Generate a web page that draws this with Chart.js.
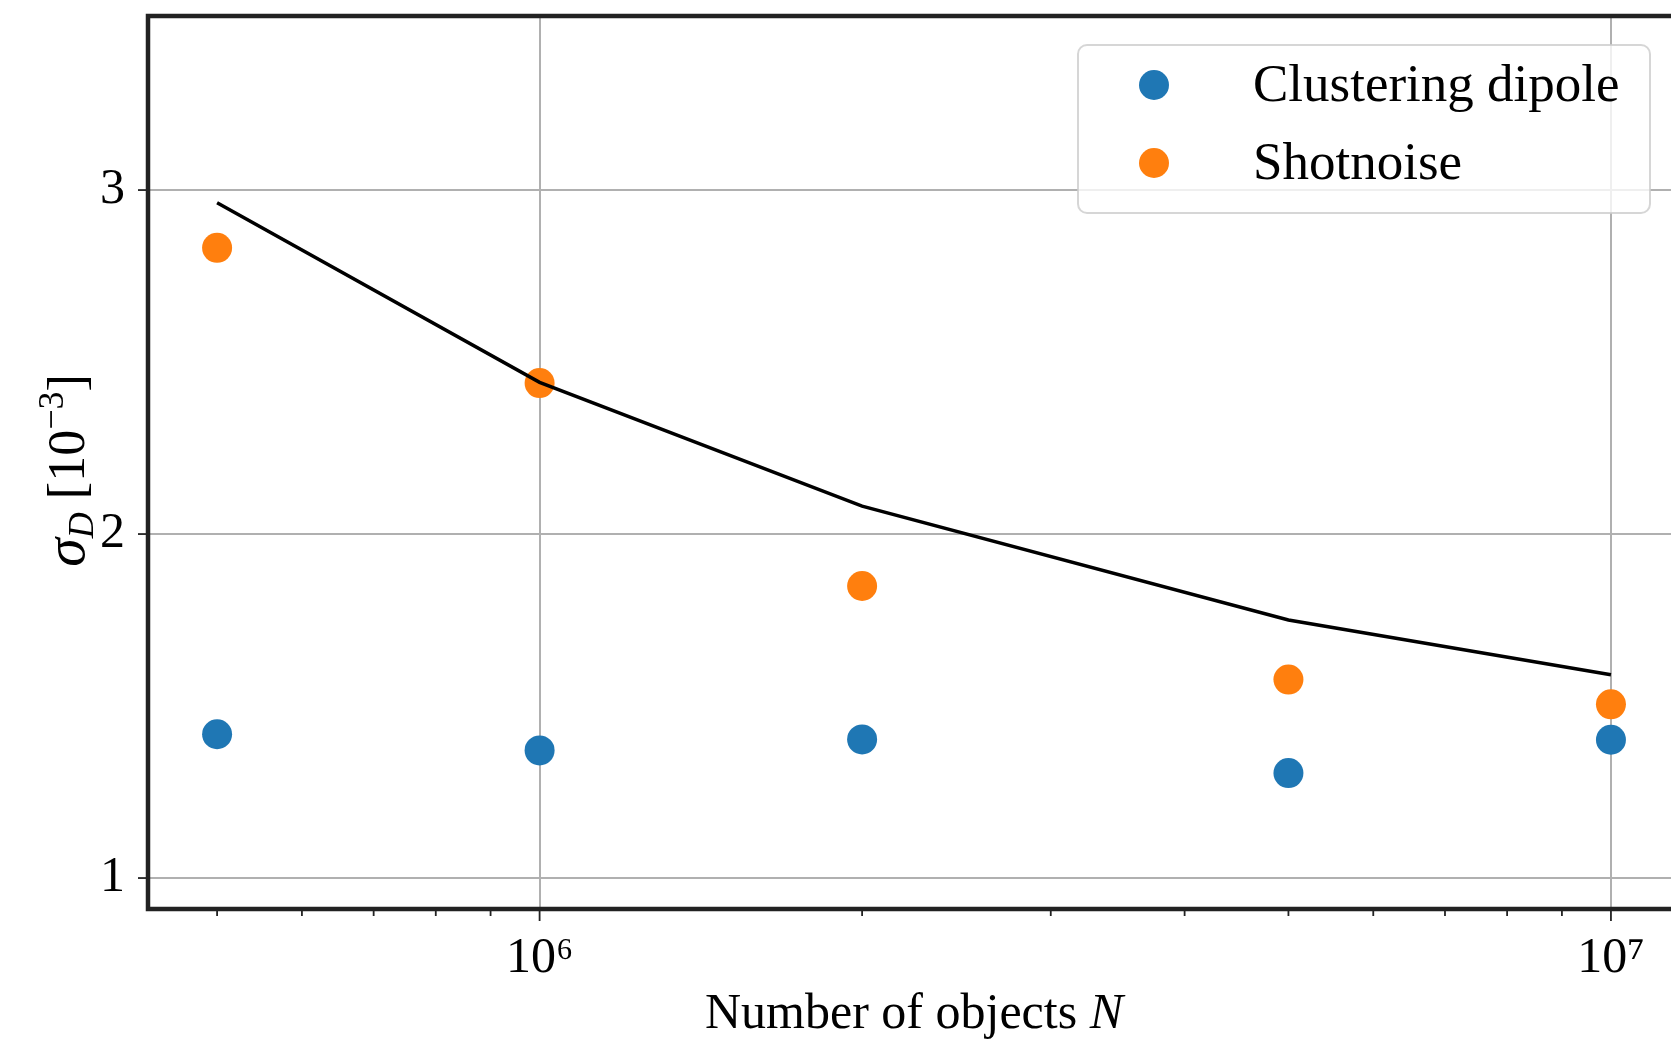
<!DOCTYPE html>
<html>
<head>
<meta charset="utf-8">
<script src="https://cdn.jsdelivr.net/npm/chart.js@4"></script>
<style>
  html, body { margin: 0; padding: 0; background: #fff; overflow: hidden; }
  #wrap { width: 1671px; height: 1041px; overflow: hidden; }
</style>
</head>
<body>
<div id="wrap"><canvas id="sigmaChart" width="1695" height="1041"></canvas></div>
<script>
// values
const nObjects = [5e5, 1e6, 2e6, 5e6, 1e7];
const clusteringDipole = [1.418, 1.371, 1.403, 1.305, 1.402];
const shotnoise = [2.832, 2.439, 1.849, 1.577, 1.505];
const totalSigma = [2.963, 2.441, 2.081, 1.750, 1.591];
const seriesLabels = ['Clustering dipole', 'Shotnoise'];
const seriesColors = ['#1f77b4', '#ff7f0e'];
const yTicks = [1, 2, 3];
const xMajorTicks = [1e6, 1e7];
const xTickLabels = ['10⁶', '10⁷'];
const xMinorTicks = [5e5, 6e5, 7e5, 8e5, 9e5, 2e6, 3e6, 4e6, 5e6, 6e6, 7e6, 8e6, 9e6];
const xTitle = 'Number of objects ';
const xTitleVar = 'N';

const SERIF = '"Liberation Serif", "DejaVu Serif", serif';
const GRID = '#b0b0b0';
const SPINE = '#222';

function pairs(ys) {
  return nObjects.map((x, i) => ({ x: x, y: ys[i] }));
}

// spines, tick marks and axis titles (matplotlib look)
const axesPlugin = {
  id: 'axesDecor',
  afterDatasetsDraw(chart) {
    const ctx = chart.ctx;
    const a = chart.chartArea;
    const xs = chart.scales.x, ys = chart.scales.y;
    ctx.save();
    ctx.strokeStyle = SPINE;
    ctx.lineWidth = 1.8;
    xMinorTicks.forEach(v => {
      const px = xs.getPixelForValue(v);
      ctx.beginPath(); ctx.moveTo(px, a.bottom); ctx.lineTo(px, a.bottom + 7); ctx.stroke();
    });
    xMajorTicks.forEach(v => {
      const px = xs.getPixelForValue(v);
      ctx.beginPath(); ctx.moveTo(px, a.bottom); ctx.lineTo(px, a.bottom + 12); ctx.stroke();
    });
    yTicks.forEach(v => {
      const py = ys.getPixelForValue(v);
      ctx.beginPath(); ctx.moveTo(a.left, py); ctx.lineTo(a.left - 10, py); ctx.stroke();
    });
    ctx.lineWidth = 4.5;
    ctx.beginPath();
    ctx.moveTo(a.right + 5, a.top);
    ctx.lineTo(a.left, a.top);
    ctx.lineTo(a.left, a.bottom);
    ctx.lineTo(a.right + 5, a.bottom);
    ctx.stroke();
    ctx.restore();
  },
  afterDraw(chart) {
    const ctx = chart.ctx;
    const a = chart.chartArea;
    ctx.save();
    ctx.fillStyle = '#000';
    ctx.textBaseline = 'alphabetic';

    // x title
    ctx.font = '50px ' + SERIF;
    const w1 = ctx.measureText(xTitle).width;
    ctx.font = 'italic 50px ' + SERIF;
    const w2 = ctx.measureText(xTitleVar).width;
    let x0 = (a.left + a.right) / 2 - (w1 + w2) / 2;
    ctx.font = '50px ' + SERIF;
    ctx.fillText(xTitle, x0, 1028);
    ctx.font = 'italic 50px ' + SERIF;
    ctx.fillText(xTitleVar, x0 + w1, 1028);

    // y title: sigma_D [10^-3]
    const parts = [
      { t: 'σ', f: 'italic 58px ' + SERIF, dy: 0 },
      { t: 'D', f: 'italic 36px ' + SERIF, dy: 9 },
      { t: ' [10', f: '52px ' + SERIF, dy: 0 },
      { t: '−3', f: '36px ' + SERIF, dy: -21 },
      { t: ']', f: '52px ' + SERIF, dy: 0 }
    ];
    let total = 0;
    parts.forEach(p => { ctx.font = p.f; p.w = ctx.measureText(p.t).width; total += p.w; });
    ctx.translate(84, (a.top + a.bottom) / 2 + 8);
    ctx.rotate(-Math.PI / 2);
    let cx = -total / 2;
    parts.forEach(p => { ctx.font = p.f; ctx.fillText(p.t, cx, p.dy); cx += p.w; });
    ctx.restore();

    // legend box
    const L = { x: 1078, y: 45, w: 572, h: 168, r: 9 };
    ctx.save();
    ctx.beginPath();
    ctx.moveTo(L.x + L.r, L.y);
    ctx.arcTo(L.x + L.w, L.y, L.x + L.w, L.y + L.h, L.r);
    ctx.arcTo(L.x + L.w, L.y + L.h, L.x, L.y + L.h, L.r);
    ctx.arcTo(L.x, L.y + L.h, L.x, L.y, L.r);
    ctx.arcTo(L.x, L.y, L.x + L.w, L.y, L.r);
    ctx.closePath();
    ctx.fillStyle = 'rgba(255,255,255,0.8)';
    ctx.fill();
    ctx.strokeStyle = 'rgba(204,204,204,0.8)';
    ctx.lineWidth = 2;
    ctx.stroke();
    ctx.font = '53px ' + SERIF;
    ctx.textBaseline = 'middle';
    seriesLabels.forEach((lab, i) => {
      const yy = 85 + i * 78;
      ctx.fillStyle = seriesColors[i];
      ctx.beginPath(); ctx.arc(1154, yy, 15, 0, Math.PI * 2); ctx.fill();
      ctx.fillStyle = '#000';
      ctx.fillText(lab, 1253, yy + 2);
    });
    ctx.restore();
  }
};

const ctx = document.getElementById('sigmaChart').getContext('2d');

new Chart(ctx, {
  type: 'scatter',
  data: {
    datasets: [
      {
        label: 'total',
        data: pairs(totalSigma),
        showLine: true,
        borderColor: '#000',
        borderWidth: 3.5,
        pointRadius: 0,
        fill: false,
        order: 0
      },
      {
        label: seriesLabels[0],
        data: pairs(clusteringDipole),
        backgroundColor: seriesColors[0],
        borderWidth: 0,
        pointRadius: 15,
        order: 2
      },
      {
        label: seriesLabels[1],
        data: pairs(shotnoise),
        backgroundColor: seriesColors[1],
        borderWidth: 0,
        pointRadius: 15,
        order: 1
      }
    ]
  },
  options: {
    responsive: false,
    animation: false,
    devicePixelRatio: 1,
    layout: { padding: { top: 16, left: 0, right: 0, bottom: 0 } },
    plugins: {
      legend: { display: false },
      tooltip: { enabled: false }
    },
    scales: {
      x: {
        type: 'logarithmic',
        min: 4.31e5,
        max: 1.16e7,
        afterBuildTicks: s => {
          s.ticks = xMinorTicks.concat(xMajorTicks).sort((p, q) => p - q).map(v => ({ value: v }));
        },
        afterFit: s => {
          s.height = 132;
          s.paddingLeft = 0; s.paddingRight = 0;
        },
        ticks: {
          autoSkip: false,
          maxRotation: 0,
          padding: 20,
          color: '#000',
          font: { family: SERIF, size: 50 },
          callback: v => {
            const i = xMajorTicks.indexOf(v);
            return i >= 0 ? xTickLabels[i] : '';
          }
        },
        grid: {
          drawTicks: false,
          lineWidth: 2,
          color: c => (c.tick && xMajorTicks.includes(c.tick.value)) ? GRID : 'rgba(0,0,0,0)'
        },
        border: { display: false }
      },
      y: {
        min: 0.91,
        max: 3.506,
        afterBuildTicks: s => { s.ticks = yTicks.map(v => ({ value: v })); },
        afterFit: s => {
          s.width = 148;
          s.paddingTop = 0; s.paddingBottom = 0;
        },
        ticks: {
          padding: 23,
          color: '#000',
          font: { family: SERIF, size: 50 },
          callback: v => String(v)
        },
        grid: { drawTicks: false, lineWidth: 2, color: GRID },
        border: { display: false }
      }
    }
  },
  plugins: [axesPlugin]
});
</script>
</body>
</html>
